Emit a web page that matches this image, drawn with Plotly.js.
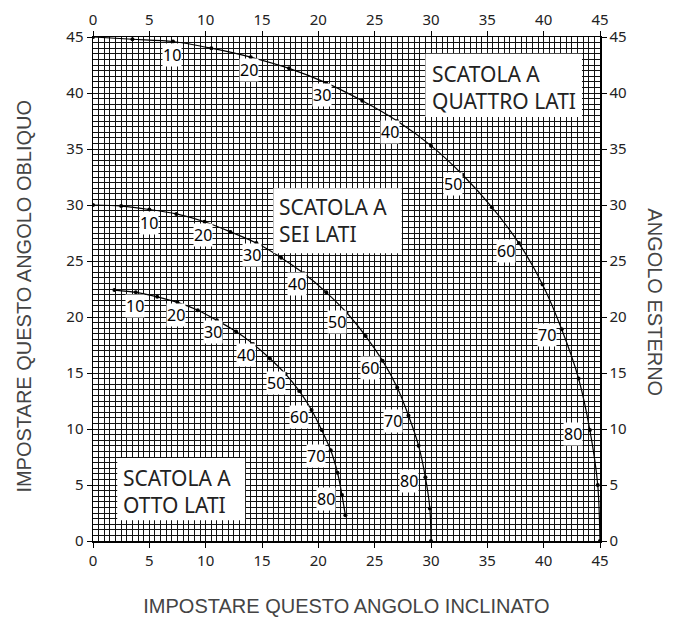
<!DOCTYPE html>
<html>
<head>
<meta charset="utf-8">
<script src="https://cdn.plot.ly/plotly-3.0.1.min.js"></script>
<style>html,body{margin:0;padding:0;background:#fff;}#chart{width:693px;height:617px;}</style>
</head>
<body>
<div id="chart"></div>
<script>
// Angolo esterno (slope) for each marked point
const quattroAngles = [0,5,10,15,20,25,30,35,40,45,50,55,60,65,70,75,80,85,90];
const quattroBevel  = [0,3.5,7.1,10.5,14.0,17.4,20.7,23.9,27.0,30.0,32.8,35.4,37.8,39.9,41.6,43.1,44.1,44.8,45.0];
const quattroMiter  = [45.0,44.8,44.6,44.0,43.2,42.2,40.9,39.3,37.5,35.3,32.7,29.8,26.6,22.9,18.9,14.5,9.9,5.0,0];

const seiAngles = [0,5,10,15,20,25,30,35,40,45,50,55,60,65,70,75,80,85,90];
const seiBevel  = [0,2.5,5.0,7.4,9.9,12.2,14.5,16.7,18.7,20.7,22.5,24.2,25.7,27.0,28.0,28.9,29.5,29.9,30.0];
const seiMiter  = [30.0,29.9,29.6,29.2,28.5,27.6,26.6,25.3,23.9,22.2,20.4,18.3,16.1,13.7,11.2,8.5,5.7,2.9,0];

const ottoAngles = [5,10,15,20,25,30,35,40,45,50,55,60,65,70,75,80,85];
const ottoBevel  = [1.9,3.8,5.7,7.5,9.3,11.0,12.7,14.2,15.7,17.1,18.3,19.4,20.3,21.1,21.7,22.1,22.4];
const ottoMiter  = [22.4,22.2,21.8,21.3,20.6,19.7,18.7,17.6,16.3,14.9,13.4,11.7,9.9,8.1,6.1,4.1,2.3];

const labelledAngles = [10,20,30,40,50,60,70,80];
const boxTexts = ['SCATOLA A<br>QUATTRO LATI', 'SCATOLA A<br>SEI LATI', 'SCATOLA A<br>OTTO LATI'];
const xTitle = 'IMPOSTARE QUESTO ANGOLO INCLINATO';
const yTitle = 'IMPOSTARE QUESTO ANGOLO OBLIQUO';
const y2Title = 'ANGOLO ESTERNO';

const tickFont = {family: 'Noto Sans', size: 15, color: '#222'};
const titleFont = {family: 'Liberation Sans, Arial', size: 20, color: '#444'};

function curve(xs, ys) {
  return {
    x: xs, y: ys, type: 'scatter', mode: 'lines+markers',
    line: {color: '#000', width: 1.2, shape: 'spline', smoothing: 0.8},
    marker: {color: '#000', size: 4},
    hoverinfo: 'skip', showlegend: false
  };
}

const traces = [
  curve(quattroBevel, quattroMiter),
  curve(seiBevel, seiMiter),
  curve(ottoBevel, ottoMiter),
  {x: [], y: [], xaxis: 'x2', yaxis: 'y2', type: 'scatter', showlegend: false}
];

const annotations = [];
function addLabels(angles, xs, ys) {
  angles.forEach((a, i) => {
    if (labelledAngles.indexOf(a) < 0) return;
    const r = a * Math.PI / 180;
    annotations.push({
      x: xs[i], y: ys[i], xref: 'x', yref: 'y', showarrow: false,
      text: String(a), font: {family: 'Noto Sans', size: 16, color: '#000'},
      bgcolor: '#fff', borderpad: 0,
      xshift: -17 * Math.pow(Math.sin(r), 2),
      yshift: -(12 * Math.cos(r) + 1.5)
    });
  });
}
addLabels(quattroAngles, quattroBevel, quattroMiter);
addLabels(seiAngles, seiBevel, seiMiter);
addLabels(ottoAngles, ottoBevel, ottoMiter);

// white boxes [x0, x1, y0, y1] and text anchor [x, y]
const boxRects = [[29.5, 43.4, 37.85, 43.5], [16.0, 27.4, 25.7, 31.5], [2.15, 13.5, 1.85, 7.4]];
const boxTextPos = [[30.0, 40.5], [16.4, 28.6], [2.6, 4.45]];
const shapes = boxRects.map(b => ({
  type: 'rect', xref: 'x', yref: 'y', x0: b[0], x1: b[1], y0: b[2], y1: b[3],
  fillcolor: '#fff', line: {width: 0}, layer: 'above'
}));
boxTexts.forEach((t, i) => {
  annotations.push({
    x: boxTextPos[i][0], y: boxTextPos[i][1], xref: 'x', yref: 'y',
    xanchor: 'left', yanchor: 'middle', align: 'left', showarrow: false,
    text: t, font: {family: 'Noto Sans', size: 21, color: '#222'},
    borderpad: 0
  });
});

annotations.push({
  xref: 'paper', yref: 'paper', x: 1.108, y: 0.474, xanchor: 'center', yanchor: 'middle',
  showarrow: false, textangle: 90, text: y2Title, font: titleFont
});
annotations.push({
  xref: 'paper', yref: 'paper', x: -0.136, y: 0.485, xanchor: 'center', yanchor: 'middle',
  showarrow: false, textangle: -90, text: yTitle, font: titleFont
});

const axisCommon = {
  range: [0, 45], dtick: 5, tick0: 0, ticks: 'outside', ticklen: 5, tickwidth: 1,
  tickcolor: '#000', tickfont: tickFont, showline: true, linecolor: '#000', linewidth: 1.5,
  zeroline: false, fixedrange: true
};

const layout = {
  width: 693, height: 617,
  margin: {l: 93, r: 93, t: 37, b: 76, pad: 0},
  paper_bgcolor: '#fff', plot_bgcolor: '#fff',
  xaxis: Object.assign({}, axisCommon, {
    showgrid: true, gridcolor: '#111', gridwidth: 1,
    minor: {dtick: 0.5, showgrid: true, gridcolor: '#111', gridwidth: 1},
    title: {text: xTitle, font: titleFont, standoff: 30}
  }),
  yaxis: Object.assign({}, axisCommon, {
    showgrid: true, gridcolor: '#111', gridwidth: 1,
    minor: {dtick: 0.5, showgrid: true, gridcolor: '#111', gridwidth: 1}
  }),
  xaxis2: Object.assign({}, axisCommon, {overlaying: 'x', side: 'top', showgrid: false, anchor: 'y2'}),
  yaxis2: Object.assign({}, axisCommon, {overlaying: 'y', side: 'right', showgrid: false, anchor: 'x2'}),
  shapes: shapes,
  annotations: annotations,
  showlegend: false
};

Plotly.newPlot('chart', traces, layout, {displayModeBar: false, staticPlot: true});
</script>
</body>
</html>
